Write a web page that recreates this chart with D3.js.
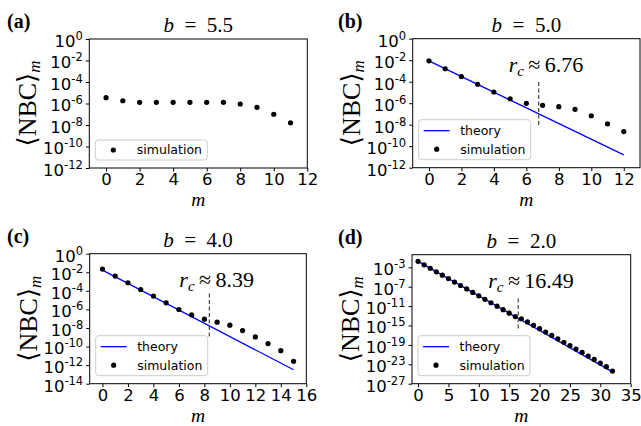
<!DOCTYPE html>
<html lang="en">
<head>
<meta charset="UTF-8">
<title>NBC versus m</title>
<script src="https://d3js.org/d3.v7.min.js"></script>
<style>
  body { margin: 0; background: #fff; }
  svg text { fill: #000; }
</style>
</head>
<body>
<script>
// panel tags and the b value in each title
const panelTags = ["(a)", "(b)", "(c)", "(d)"];
const bValues = ["5.5", "5.0", "4.0", "2.0"];

// simulation points, one per m = 0, 1, 2, ...
const simA = [3.5e-6, 1.8e-6, 1.3e-6, 1.3e-6, 1.3e-6, 1.3e-6, 1.3e-6, 1.3e-6, 9e-7, 4.4e-7, 1e-7, 1.6e-8];
const simB = [8.7e-3, 1.6e-3, 3.0e-4, 5.8e-5, 1.1e-5, 2.6e-6, 9.8e-7, 6.3e-7, 4.8e-7, 2.7e-7, 6.8e-8, 1.2e-8, 2.3e-9];
const simC = [2.2e-2, 3.9e-3, 7.4e-4, 1.4e-4, 2.7e-5, 5.1e-6, 9.8e-7, 2.6e-7, 8.9e-8, 4.2e-8, 2.0e-8, 5.2e-9,
              1.1e-9, 2.1e-10, 3.6e-11, 2.6e-12];
const simD = [1.7e-2, 3.3e-3, 6.5e-4, 1.2e-4, 2.4e-5, 4.7e-6, 9.1e-7, 1.8e-7, 3.5e-8, 6.6e-9, 1.3e-9, 2.5e-10,
              4.9e-11, 9.5e-12, 1.8e-12, 3.5e-13, 6.9e-14, 2.5e-14, 5.6e-15, 1.1e-15, 2.2e-16, 4.5e-17,
              8.9e-18, 1.8e-18, 3.5e-19, 7.1e-20, 1.4e-20, 2.8e-21, 5.0e-22, 1.0e-22, 1.8e-23, 3.2e-24, 4.0e-25];

// theory lines (straight on the log axis): end points
const theoryM_B = [0, 12], theoryB = [8.7e-3, 1.55e-11];
const theoryM_C = [0, 15], theoryC = [1.7e-2, 3.2e-13];
const theoryM_D = [0, 32], theoryD = [1.7e-2, 2.8e-25];

// r_c markers and the extent of their dashed lines
const rcValues = [null, 6.76, 8.39, 16.49];
const rcDashB = [9.5e-5, 8.5e-9];
const rcDashC = [5.2e-5, 1.1e-9];
const rcDashD = [3.5e-10, 1.1e-16];

// axis ranges and ticks
const xDomains = [[-1, 12], [-1, 13], [-1, 16], [-1, 35]];
const xTickSteps = [2, 2, 2, 5];
const yDomains = [[1e-12, 1], [1e-12, 1], [1e-14, 1], [1e-27, 0.4]];
const yTickExps = [
  [0, -2, -4, -6, -8, -10, -12],
  [0, -2, -4, -6, -8, -10, -12],
  [0, -2, -4, -6, -8, -10, -12, -14],
  [-3, -7, -11, -15, -19, -23, -27]
];

const panels = [
  { sim: simA, theoryM: null, theory: null, dash: null },
  { sim: simB, theoryM: theoryM_B, theory: theoryB, dash: rcDashB },
  { sim: simC, theoryM: theoryM_C, theory: theoryC, dash: rcDashC },
  { sim: simD, theoryM: theoryM_D, theory: theoryD, dash: rcDashD }
];

// axes boxes in page pixels
const boxes = [
  { l: 89.3, r: 307.3, t: 39, b: 168 },
  { l: 412.7, r: 640, t: 38.7, b: 167.7 },
  { l: 89.7, r: 306.3, t: 253.7, b: 383.7 },
  { l: 412, r: 630.7, t: 254.7, b: 383.7 }
];
const tagX = [7, 338, 7, 338];

const serif = "'Liberation Serif', 'DejaVu Serif', serif";
const sans = "'DejaVu Sans', sans-serif";

const width = 641, height = 426;
const svg = d3.select("body").append("svg")
    .attr("width", width)
    .attr("height", height)
    .attr("viewBox", `0 0 ${width} ${height}`);

panels.forEach((p, i) => {
    const box = boxes[i];
    const x = d3.scaleLinear().domain(xDomains[i]).range([box.l, box.r]);
    const y = d3.scaleLog().domain(yDomains[i]).range([box.b, box.t]);
    const g = svg.append("g");

    // x axis
    const xTicks = d3.range(0, xDomains[i][1] + 0.001, xTickSteps[i]);
    const xAxis = g.append("g")
        .attr("transform", `translate(0,${box.b})`)
        .call(d3.axisBottom(x).tickValues(xTicks).tickSize(3.5).tickPadding(2).tickSizeOuter(0));
    xAxis.select(".domain").remove();
    xAxis.selectAll("line").attr("stroke", "#000");
    xAxis.selectAll("text").attr("font-family", sans).attr("font-size", 16.5);

    // y axis with 10^k labels
    const yAxis = g.append("g")
        .attr("transform", `translate(${box.l},0)`)
        .call(d3.axisLeft(y).tickValues(yTickExps[i].map(e => Math.pow(10, e)))
            .tickSize(3.5).tickPadding(3).tickSizeOuter(0).tickFormat(""));
    yAxis.select(".domain").remove();
    yAxis.selectAll("line").attr("stroke", "#000");
    yAxis.selectAll(".tick text").each(function(d) {
        const t = d3.select(this)
            .attr("font-family", sans)
            .attr("font-size", 16.5)
            .attr("dy", "0.45em");
        const e = Math.round(Math.log10(d));
        t.append("tspan").text("10");
        t.append("tspan").attr("font-size", 11.5).attr("dy", -7).text(e === 0 ? "0" : "-" + Math.abs(e));
    });

    // frame
    g.append("rect")
        .attr("x", box.l).attr("y", box.t)
        .attr("width", box.r - box.l).attr("height", box.b - box.t)
        .attr("fill", "none").attr("stroke", "#000").attr("stroke-width", 1);

    // theory line
    if (p.theory) {
        g.append("path")
            .datum(p.theoryM.map((m, k) => [m, p.theory[k]]))
            .attr("fill", "none")
            .attr("stroke", "#0000ff")
            .attr("stroke-width", 1.3)
            .attr("d", d3.line().x(d => x(d[0])).y(d => y(d[1])));
    }

    // r_c dashed marker and label
    if (p.dash) {
        g.append("line")
            .attr("x1", x(rcValues[i])).attr("x2", x(rcValues[i]))
            .attr("y1", y(p.dash[0])).attr("y2", y(p.dash[1]))
            .attr("stroke", "#444").attr("stroke-width", 1.2)
            .attr("stroke-dasharray", "4,2.5");
        const rt = g.append("text")
            .attr("x", x(rcValues[i]) - 30)
            .attr("y", box.t + 33)
            .attr("font-family", serif)
            .attr("font-size", 22);
        rt.append("tspan").attr("font-style", "italic").text("r");
        rt.append("tspan").attr("font-style", "italic").attr("font-size", 15).attr("dy", 4).text("c");
        rt.append("tspan").attr("dy", -4).text("\u2009\u2248\u2009" + rcValues[i]);
    }

    // simulation dots
    g.append("g").selectAll("circle")
        .data(p.sim)
        .join("circle")
        .attr("cx", (d, m) => x(m))
        .attr("cy", d => y(d))
        .attr("r", 2.6)
        .attr("fill", "#000");

    // legend
    const rows = p.theory ? 2 : 1;
    const lh = rows === 2 ? 40 : 20;
    const lx = box.l + 6, ly = box.b - 8 - lh;
    const leg = g.append("g");
    leg.append("rect")
        .attr("x", lx).attr("y", ly)
        .attr("width", 112).attr("height", lh)
        .attr("rx", 3)
        .attr("fill", "#fff").attr("fill-opacity", 0.8)
        .attr("stroke", "#ccc").attr("stroke-width", 1);
    let rowY = ly + 10;
    if (p.theory) {
        rowY = ly + 11;
        leg.append("line")
            .attr("x1", lx + 5).attr("x2", lx + 31)
            .attr("y1", rowY).attr("y2", rowY)
            .attr("stroke", "#0000ff").attr("stroke-width", 1.3);
        leg.append("text")
            .attr("x", lx + 41.5).attr("y", rowY).attr("dy", "0.35em")
            .attr("font-family", sans).attr("font-size", 12.5)
            .text("theory");
        rowY = ly + 29.5;
    }
    leg.append("circle").attr("cx", lx + 18).attr("cy", rowY).attr("r", 2.6).attr("fill", "#000");
    leg.append("text")
        .attr("x", lx + 41.5).attr("y", rowY).attr("dy", "0.35em")
        .attr("font-family", sans).attr("font-size", 12.5)
        .text("simulation");

    // title
    const title = g.append("text")
        .attr("x", (box.l + box.r) / 2)
        .attr("y", box.t - 7)
        .attr("text-anchor", "middle")
        .attr("font-family", serif)
        .attr("font-size", 21);
    title.append("tspan").attr("font-style", "italic").text("b");
    title.append("tspan").text("\u2002=\u2002" + bValues[i]);

    // panel tag
    g.append("text")
        .attr("x", tagX[i])
        .attr("y", box.t - 11)
        .attr("font-family", serif)
        .attr("font-weight", "bold")
        .attr("font-size", 20)
        .text(panelTags[i]);

    // x label
    g.append("text")
        .attr("x", (box.l + box.r) / 2)
        .attr("y", box.b + 37.8)
        .attr("text-anchor", "middle")
        .attr("font-family", serif)
        .attr("font-style", "italic")
        .attr("font-size", 19.5)
        .text("m");

    // y label
    const yl = g.append("text")
        .attr("transform", `translate(${box.l - 53},${(box.t + box.b) / 2}) rotate(-90)`)
        .attr("text-anchor", "middle")
        .attr("font-family", serif)
        .attr("font-size", 26);
    yl.append("tspan").text("\u27E8NBC\u27E9");
    yl.append("tspan").attr("font-style", "italic").attr("font-size", 17).attr("dy", 4).text("m");
});
</script>
</body>
</html>
